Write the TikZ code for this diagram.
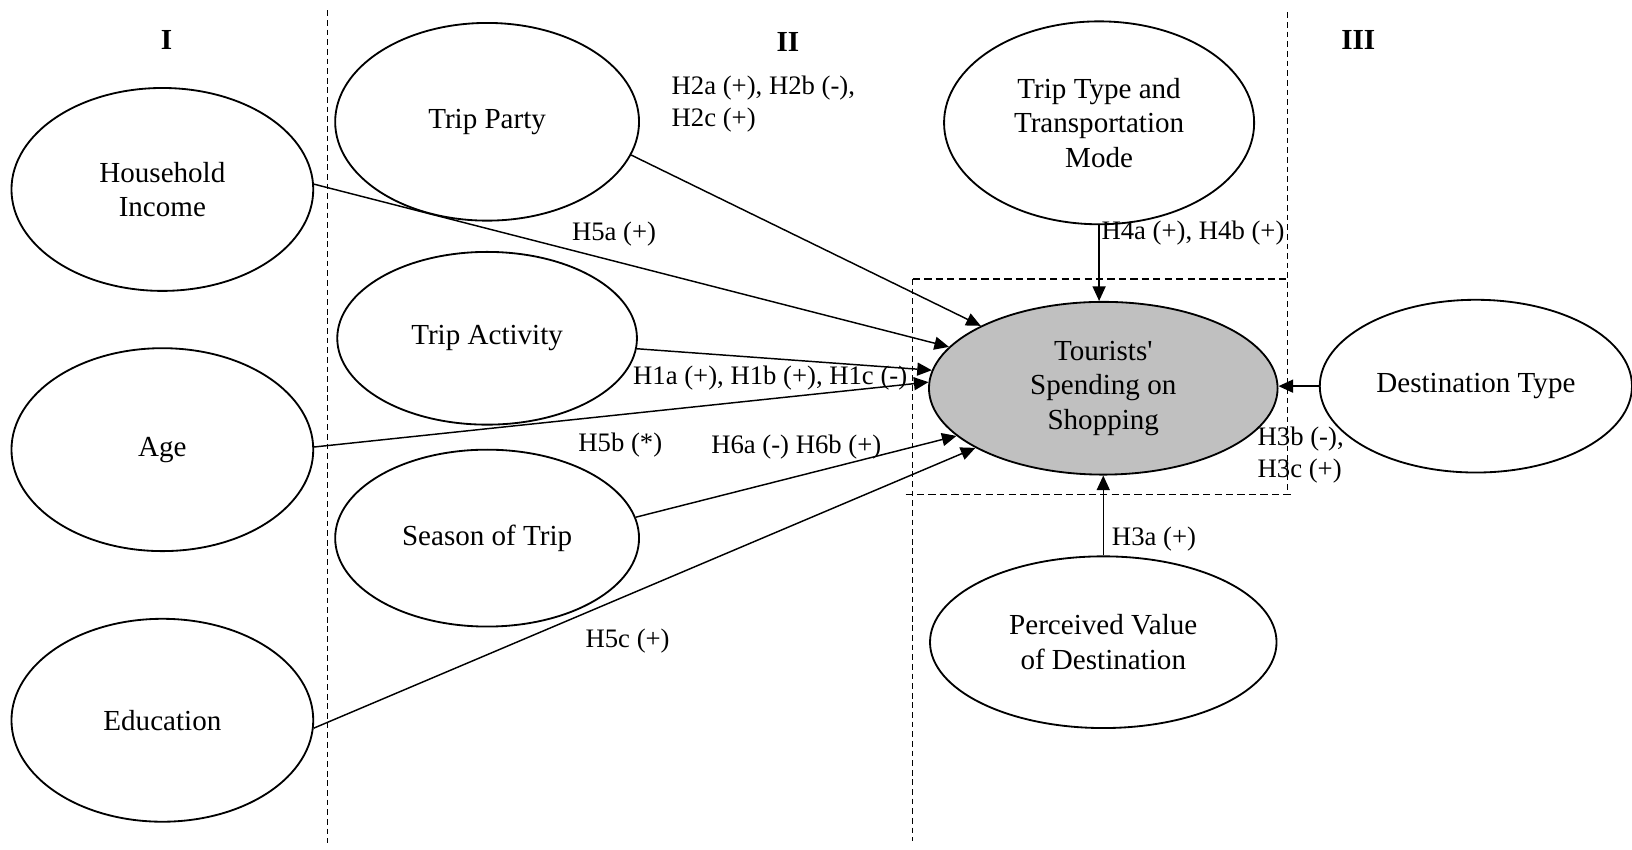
\documentclass[tikz,border=0pt]{standalone}
\usepackage{fontspec}
\setmainfont{Liberation Serif}
\usetikzlibrary{shapes.geometric,arrows.meta}
\definecolor{shade}{RGB}{192,192,192}
\begin{document}
\begin{tikzpicture}[x=0.02cm,y=-0.02cm,
  font=\fontsize{15.9}{18.8}\selectfont,
  oval/.style={ellipse,draw,line width=1pt,inner sep=0pt,align=center},
  conn/.style={line width=0.8pt,-{Triangle[length=0.28cm,width=0.25cm]}},
  sepv/.style={line width=0.6pt,dash pattern=on 0.11cm off 0.075cm},
  seph/.style={line width=0.7pt,dash pattern=on 0.14cm off 0.08cm},
  lbl/.style={inner sep=0pt,align=left,font=\fontsize{14.6}{17.6}\selectfont},
  head/.style={inner sep=0pt,font=\fontsize{15.9}{18.8}\selectfont\bfseries}]
\useasboundingbox (0,0) rectangle (1568,816);

% separators and box
\draw[sepv] (315,10) -- (315,810);
\draw[sepv] (1237,12) -- (1237,475);
\draw[sepv] (877,268) -- (877,808);
\draw[seph] (877,268) -- (1237,268);
\draw[seph] (870,475) -- (1240,475);

% headers
\node[head] (h1) at (160,38) {I};
\node[head] (h2) at (757,40) {II};
\node[head] (h3) at (1305,38) {III};

% ellipses
\node[oval,minimum width=5.8cm,minimum height=3.9cm] (hi) at (156,182) {Household\\Income};
\node[oval,minimum width=5.84cm,minimum height=3.8cm] (tp) at (468,117) {Trip Party};
\node[oval,minimum width=5.76cm,minimum height=3.32cm] (ta) at (468,325) {Trip Activity};
\node[oval,minimum width=5.8cm,minimum height=3.9cm] (ag) at (156,432) {Age};
\node[oval,minimum width=5.84cm,minimum height=3.4cm] (st) at (468,517) {Season of Trip};
\node[oval,minimum width=5.8cm,minimum height=3.9cm] (ed) at (156,692) {Education};
\node[oval,minimum width=5.96cm,minimum height=3.9cm] (tt) at (1056,118) {Trip Type and\\Transportation\\Mode};
\node[oval,fill=shade,minimum width=6.7cm,minimum height=3.32cm] (ts) at (1060,373) {Tourists\textquotesingle\\Spending on\\Shopping};
\node[oval,minimum width=6.0cm,minimum height=3.32cm] (dt) at (1418,371) {Destination Type};
\node[oval,minimum width=6.66cm,minimum height=3.3cm] (pv) at (1060,617) {Perceived Value\\of Destination};

% connectors
\draw[conn] (hi.2) -- (ts.165.6);
\draw[conn] (tp.-13) -- (ts.153.3);
\draw[conn] (ta.-4.8) -- (ts.174.4);
\draw[conn] (ag.1.6) -- (ts.178.6);
\draw[conn] (st.8.3) -- (ts.198.7);
\draw[conn] (ed.-3.2) -- (ts.205.3);
\draw[conn] (tt.south) -- (tt.south |- ts.north);
\draw[conn] (dt.west) -- (dt.west -| ts.east);
\draw[conn] (pv.north) -- (pv.north |- ts.south);

% labels
\node[lbl,anchor=west] (l2) at (645,100) {H2a (+), H2b (-),\\H2c (+)};
\node[lbl] (l5a) at (590,225) {H5a (+)};
\node[lbl,anchor=west] (l1) at (608,363) {H1a (+), H1b (+), H1c (-)};
\node[lbl] (l5b) at (596,428) {H5b (*)};
\node[lbl,anchor=west] (l6) at (683,430) {H6a (-) H6b (+)};
\node[lbl] (l5c) at (603,616) {H5c (+)};
\node[lbl,anchor=west] (l4) at (1058,224) {H4a (+), H4b (+)};
\node[lbl,anchor=west] (l3bc) at (1208,437) {H3b (-),\\H3c (+)};
\node[lbl,anchor=west] (l3a) at (1068,518) {H3a (+)};
\end{tikzpicture}
\end{document}
